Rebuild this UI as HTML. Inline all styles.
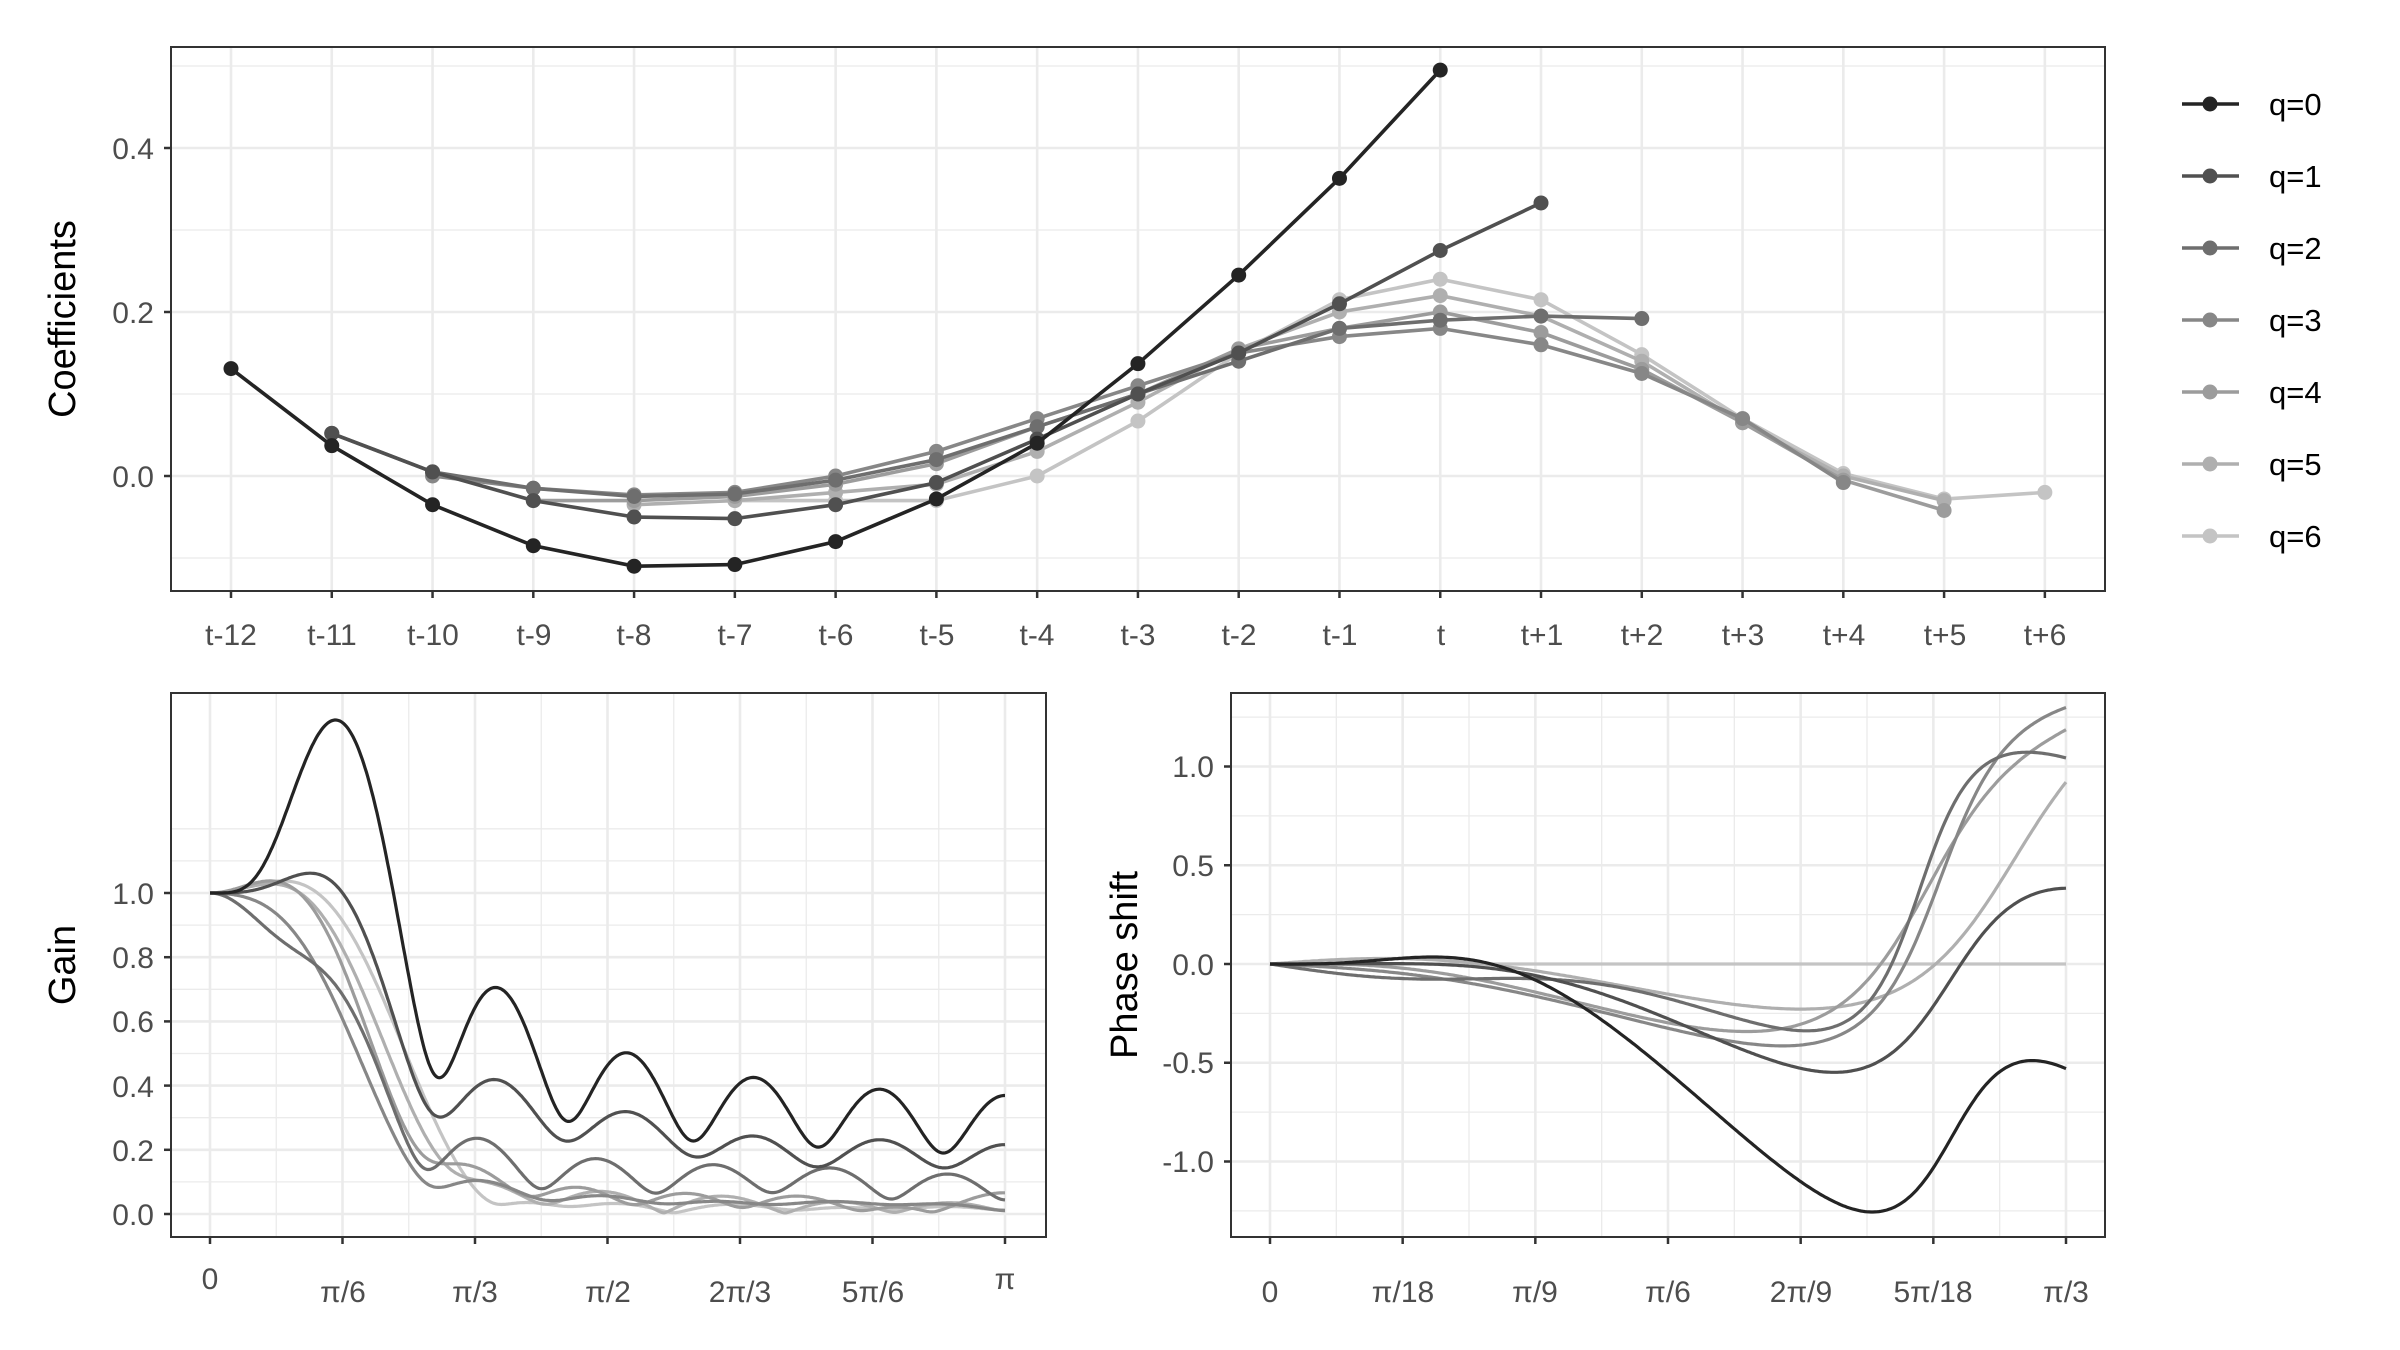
<!DOCTYPE html>
<html><head><meta charset="utf-8"><style>
html,body{margin:0;padding:0;background:#fff;}
svg{display:block;}
.tk{font-family:"Liberation Sans",sans-serif;font-size:30px;fill:#4d4d4d;}
.tt{font-family:"Liberation Sans",sans-serif;font-size:38px;fill:#000;}
.lg{font-family:"Liberation Sans",sans-serif;font-size:31px;fill:#000;}
</style></head><body>
<svg id="s" width="2400" height="1350" viewBox="0 0 2400 1350" xmlns="http://www.w3.org/2000/svg">
<defs>
<clipPath id="c1"><rect x="171" y="47" width="1934" height="544"/></clipPath>
<clipPath id="c2"><rect x="171" y="693" width="875" height="544"/></clipPath>
<clipPath id="c3"><rect x="1231" y="693" width="874" height="544"/></clipPath>
</defs>
<g id="grid"></g>
<g id="series"></g>
<rect x="171" y="47" width="1934" height="544" fill="none" stroke="#333" stroke-width="2"/>
<rect x="171" y="693" width="875" height="544" fill="none" stroke="#333" stroke-width="2"/>
<rect x="1231" y="693" width="874" height="544" fill="none" stroke="#333" stroke-width="2"/>
<g id="ticks" stroke="#333" stroke-width="2.5"></g>
<g class="tk" text-anchor="end">
<text x="154" y="159">0.4</text><text x="154" y="323">0.2</text><text x="154" y="487">0.0</text>
</g>
<g class="tk" text-anchor="middle">
<text x="231" y="645">t-12</text><text x="332" y="645">t-11</text><text x="433" y="645">t-10</text><text x="534" y="645">t-9</text><text x="634" y="645">t-8</text><text x="735" y="645">t-7</text><text x="836" y="645">t-6</text><text x="937" y="645">t-5</text><text x="1037" y="645">t-4</text><text x="1138" y="645">t-3</text><text x="1239" y="645">t-2</text><text x="1340" y="645">t-1</text><text x="1441" y="645">t</text><text x="1542" y="645">t+1</text><text x="1642" y="645">t+2</text><text x="1743" y="645">t+3</text><text x="1844" y="645">t+4</text><text x="1945" y="645">t+5</text><text x="2045" y="645">t+6</text>
</g>
<text class="tt" transform="translate(75,319) rotate(-90)" text-anchor="middle">Coefficients</text>
<g class="tk" text-anchor="end">
<text x="154" y="904">1.0</text><text x="154" y="968">0.8</text><text x="154" y="1032">0.6</text><text x="154" y="1097">0.4</text><text x="154" y="1161">0.2</text><text x="154" y="1225">0.0</text>
</g>
<text class="tt" transform="translate(75,965) rotate(-90)" text-anchor="middle">Gain</text>
<g class="tk" text-anchor="middle">
<text x="210" y="1289">0</text><text x="343" y="1302">π/6</text><text x="475" y="1302">π/3</text><text x="608" y="1302">π/2</text><text x="740" y="1302">2π/3</text><text x="873" y="1302">5π/6</text><text x="1005" y="1289">π</text>
</g>
<g class="tk" text-anchor="end">
<text x="1214" y="777">1.0</text><text x="1214" y="876">0.5</text><text x="1214" y="975">0.0</text><text x="1214" y="1073">-0.5</text><text x="1214" y="1172">-1.0</text>
</g>
<text class="tt" transform="translate(1137,965) rotate(-90)" text-anchor="middle">Phase shift</text>
<g class="tk" text-anchor="middle">
<text x="1270" y="1302">0</text><text x="1403" y="1302">π/18</text><text x="1535" y="1302">π/9</text><text x="1668" y="1302">π/6</text><text x="1801" y="1302">2π/9</text><text x="1933" y="1302">5π/18</text><text x="2066" y="1302">π/3</text>
</g>
<g id="leg"></g>
<g class="lg">
<text x="2269" y="115">q=0</text><text x="2269" y="187">q=1</text><text x="2269" y="259">q=2</text><text x="2269" y="331">q=3</text><text x="2269" y="403">q=4</text><text x="2269" y="475">q=5</text><text x="2269" y="547">q=6</text>
</g>
</svg>
<script>
var NS="http://www.w3.org/2000/svg";
function el(p,t,a){var e=document.createElementNS(NS,t);for(var k in a)e.setAttribute(k,a[k]);p.appendChild(e);return e;}
var cols=["#242424","#505050","#6e6e6e","#878787","#9c9c9c","#afafaf","#c4c4c4"];
var C=[
[-12,[.131,.037,-.035,-.085,-.110,-.108,-.080,-.028,.040,.137,.245,.363,.495]],
[-11,[.052,.005,-.030,-.050,-.052,-.035,-.008,.045,.100,.150,.210,.275,.333]],
[-11,[.052,.005,-.015,-.025,-.022,-.005,.020,.060,.100,.140,.180,.190,.195,.192]],
[-10,[0,-.015,-.023,-.020,0,.030,.070,.110,.150,.170,.180,.160,.125,.070,-.008]],
[-9,[-.030,-.030,-.025,-.010,.015,.060,.100,.155,.180,.200,.175,.130,.065,-.005,-.042]],
[-8,[-.035,-.030,-.020,-.010,.030,.090,.155,.200,.220,.195,.140,.065,0,-.030]],
[-7,[-.030,-.030,-.030,0,.067,.150,.215,.240,.215,.148,.070,.003,-.028,-.020]]
];
var g=document.getElementById('grid'),s=document.getElementById('series'),tk=document.getElementById('ticks'),lg=document.getElementById('leg');
function X1(k){return 231+(k+12)*100.77;} function Y1(v){return 476-820*v;}
function X2(w){return 210+795*w/Math.PI;} function Y2(v){return 1214-321*v;}
function X3(w){return 1270+796*w/(Math.PI/3);} function Y3(v){return 964-197.5*v;}
var GC="#ebebeb";
[-.1,.1,.3,.5].forEach(v=>el(g,'line',{x1:171,x2:2105,y1:Y1(v),y2:Y1(v),stroke:GC,'stroke-width':1.3}));
[0,.2,.4].forEach(v=>{el(g,'line',{x1:171,x2:2105,y1:Y1(v),y2:Y1(v),stroke:GC,'stroke-width':2.6});el(tk,'line',{x1:164,x2:171,y1:Y1(v),y2:Y1(v)});});
for(var k=-12;k<=6;k++){el(g,'line',{x1:X1(k),x2:X1(k),y1:47,y2:591,stroke:GC,'stroke-width':2.6});el(tk,'line',{x1:X1(k),x2:X1(k),y1:591,y2:598});}
[.1,.3,.5,.7,.9,1.1,1.2].forEach(v=>el(g,'line',{x1:171,x2:1046,y1:Y2(v),y2:Y2(v),stroke:GC,'stroke-width':1.3}));
[0,.2,.4,.6,.8,1].forEach(v=>{el(g,'line',{x1:171,x2:1046,y1:Y2(v),y2:Y2(v),stroke:GC,'stroke-width':2.6});el(tk,'line',{x1:164,x2:171,y1:Y2(v),y2:Y2(v)});});
for(var i=0;i<=6;i++){var w=i*Math.PI/6;el(g,'line',{x1:X2(w),x2:X2(w),y1:693,y2:1237,stroke:GC,'stroke-width':2.6});el(tk,'line',{x1:X2(w),x2:X2(w),y1:1237,y2:1244});if(i<6){var w2=(i+.5)*Math.PI/6;el(g,'line',{x1:X2(w2),x2:X2(w2),y1:693,y2:1237,stroke:GC,'stroke-width':1.3});}}
[-1.25,-.75,-.25,.25,.75,1.25].forEach(v=>el(g,'line',{x1:1231,x2:2105,y1:Y3(v),y2:Y3(v),stroke:GC,'stroke-width':1.3}));
[-1,-.5,0,.5,1].forEach(v=>{el(g,'line',{x1:1231,x2:2105,y1:Y3(v),y2:Y3(v),stroke:GC,'stroke-width':2.6});el(tk,'line',{x1:1224,x2:1231,y1:Y3(v),y2:Y3(v)});});
for(var i=0;i<=6;i++){var w=i*Math.PI/18;el(g,'line',{x1:X3(w),x2:X3(w),y1:693,y2:1237,stroke:GC,'stroke-width':2.6});el(tk,'line',{x1:X3(w),x2:X3(w),y1:1237,y2:1244});if(i<6){var w2=(i+.5)*Math.PI/18;el(g,'line',{x1:X3(w2),x2:X3(w2),y1:693,y2:1237,stroke:GC,'stroke-width':1.3});}}
function frf(q,w){var st=C[q][0],v=C[q][1],sum=0;v.forEach(a=>sum+=a);var re=0,im=0;v.forEach((a,j)=>{var k=st+j;a=a/sum;re+=a*Math.cos(w*k);im-=a*Math.sin(w*k);});return [re,im];}
for(var q=6;q>=0;q--){
 var st=C[q][0],v=C[q][1];
 var pts=v.map((a,j)=>X1(st+j).toFixed(1)+","+Y1(a).toFixed(1)).join(" ");
 var gg=el(s,'g',{'clip-path':'url(#c1)'});
 el(gg,'polyline',{points:pts,fill:'none',stroke:cols[q],'stroke-width':3.6});
 v.forEach((a,j)=>el(gg,'circle',{cx:X1(st+j),cy:Y1(a),r:7.5,fill:cols[q]}));
 var d="",d2="";
 for(var i=0;i<=600;i++){var w=Math.PI*i/600,f=frf(q,w);var gn=Math.hypot(f[0],f[1]);d+=(i?"L":"M")+X2(w).toFixed(1)+","+Y2(gn).toFixed(1);}
 el(el(s,'g',{'clip-path':'url(#c2)'}),'path',{d:d,fill:'none',stroke:cols[q],'stroke-width':3.2});
 for(var i=0;i<=400;i++){var w=Math.PI/3*i/400,f=frf(q,w);var ph=(q==6?0:-Math.atan2(f[1],f[0]));d2+=(i?"L":"M")+X3(w).toFixed(1)+","+Y3(ph).toFixed(1);}
 el(el(s,'g',{'clip-path':'url(#c3)'}),'path',{d:d2,fill:'none',stroke:cols[q],'stroke-width':3.2});
}
for(var q=0;q<7;q++){var y=104+72*q;el(lg,'line',{x1:2182,x2:2239,y1:y,y2:y,stroke:cols[q],'stroke-width':3.6});el(lg,'circle',{cx:2210,cy:y,r:7.5,fill:cols[q]});}
</script>
</body></html>
